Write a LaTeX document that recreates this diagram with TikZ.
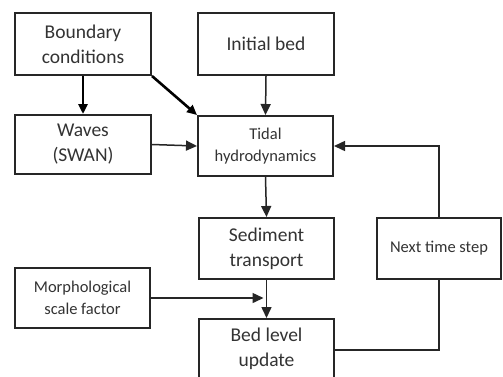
\documentclass[tikz,border=0pt]{standalone}
\usepackage{fontspec}
\setmainfont{Carlito}
\usetikzlibrary{arrows.meta}
\begin{document}
\begin{tikzpicture}[x=1pt,y=-1pt,
  box/.style={draw=black!85,line width=2pt,rectangle,inner sep=0pt,align=center,text=black!80},
  big/.style={font=\fontsize{19.5}{25}\selectfont},
  small/.style={font=\fontsize{16.5}{22}\selectfont},
  conn/.style={draw=black!85,line width=1.5pt,-{Triangle[length=11pt,width=10pt]}},
  thick conn/.style={draw=black,line width=2.6pt,-{Triangle[length=10pt,width=9pt]}},
  plain/.style={draw=black!85,line width=1.5pt}]
\clip (0,0) rectangle (503,376);
\fill[white] (0,0) rectangle (503,376);
\node[box,big,minimum width=136pt,minimum height=62pt] (bc) at (83,44) {Boundary\\conditions};
\node[box,big,minimum width=136pt,minimum height=59pt] (wv) at (83,144.5) {Waves\\(SWAN)};
\node[box,big,minimum width=136pt,minimum height=62pt] (ib) at (266,44) {Initial bed};
\node[box,small,minimum width=135pt,minimum height=60pt] (td) at (265.5,146) {Tidal\\hydrodynamics};
\node[box,big,minimum width=135pt,minimum height=61pt] (st) at (266.5,248.5) {Sediment\\transport};
\node[box,small,minimum width=124pt,minimum height=61pt] (nt) at (439,248.5) {Next time step};
\node[box,small,minimum width=135pt,minimum height=60pt] (mf) at (82.5,298) {Morphological\\scale factor};
\node[box,big,minimum width=135pt,minimum height=60pt] (bl) at (266.5,349) {Bed level\\update};
\coordinate (j) at (266.5,298);
\draw[thick conn] (bc.south) -- (wv.north);
\draw[thick conn] (bc.south east) -- (td.north west);
\draw[conn] (wv.east) -- (td.west);
\draw[conn] (ib.south) -- (td.north);
\draw[conn] (td.south) -- (st.north);
\draw[conn] (st.south) -- (bl.north);
\draw[conn] (mf.east) -- ([xshift=-3pt]j);
\draw[plain] (bl.east |- 0,350) -| (nt.south);
\draw[conn] (nt.north) |- (td.east);
\end{tikzpicture}
\end{document}
